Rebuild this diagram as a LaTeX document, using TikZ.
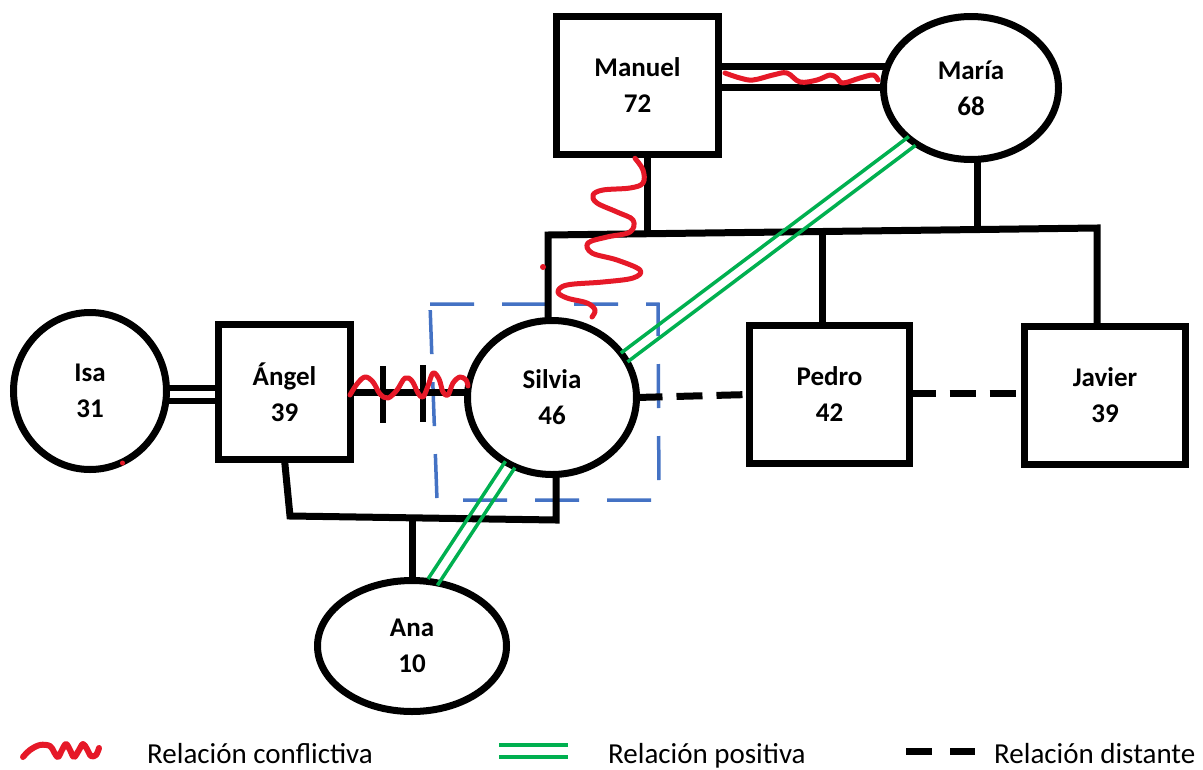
\documentclass[tikz,border=0pt]{standalone}
\usepackage{fontspec}
\setmainfont{Carlito}
\usetikzlibrary{shapes.geometric,calc}
\definecolor{rojo}{RGB}{230,25,40}
\definecolor{verde}{RGB}{0,176,80}
\definecolor{azul}{RGB}{68,114,196}
\begin{document}
\begin{tikzpicture}[x=1pt,y=-1pt,
  persona/.style={draw=black,line width=7pt,inner sep=0pt,outer sep=0pt,align=center,font=\bfseries\fontsize{27}{36}\selectfont},
  hombre/.style={persona,rectangle},
  mujer/.style={persona,ellipse},
  fam/.style={line width=7pt,black},
  distante/.style={line width=7pt,black,dash pattern=on 26pt off 14pt},
  positiva/.style={line width=3.5pt,verde},
  conflicto/.style={line width=5pt,rojo,line cap=round,line join=round},
  marco/.style={line width=3.5pt,azul,dash pattern=on 44pt off 28pt},
  leyenda/.style={font=\fontsize{29}{34}\selectfont,anchor=base west,inner sep=0pt}
]
\useasboundingbox[fill=white] (0,0) rectangle (1203,769);

% persons
\node[hombre,minimum width=162pt,minimum height=138pt] (Manuel) at (637.5,85.5) {Manuel\\72};
\node[mujer,minimum width=175pt,minimum height=143pt] (Maria) at (971,88) {María\\68};
\node[mujer,minimum width=153pt,minimum height=157pt] (Isa) at (90,391) {Isa\\31};
\node[hombre,minimum width=132pt,minimum height=135pt] (Angel) at (284.5,392) {Ángel\\39};
\node[mujer,minimum width=169pt,minimum height=154pt] (Silvia) at (552,397.5) {Silvia\\46};
\node[hombre,minimum width=160pt,minimum height=138pt] (Pedro) at (829.5,394.5) {Pedro\\42};
\node[hombre,minimum width=161pt,minimum height=138pt] (Javier) at (1105,395.5) {Javier\\39};
\node[mujer,minimum width=189pt,minimum height=131pt] (Ana) at (412,646) {Ana\\10};

% blue dashed frame around Silvia
\draw[marco] (430,304) -- (658,304) -- (659,500) -- (437,500) -- cycle;

% junction coordinates
\coordinate (mj) at (647,233.7);
\coordinate (mrj) at (977,229.5);
\coordinate (pj) at (822,231.5);
\coordinate (sibL) at (548,235);
\coordinate (sibR) at (1097,228);
\coordinate (cL) at (290,516);
\coordinate (cR) at (556,520);
\coordinate (ca) at (412,518);

% Manuel - Maria marriage
\draw[fam] ($(Manuel.east)+(0,-19.5)$) -- ($(Manuel.east -| Maria.west)+(5,-19.5)$);
\draw[fam] ($(Manuel.east)+(0,1.5)$) -- ($(Manuel.east -| Maria.west)+(3,1.5)$);

% children line
\draw[fam] (mj |- Manuel.south) -- (mj);
\draw[fam] (mrj |- Maria.south) -- (mrj);
\draw[fam] (sibL |- Silvia.north) -- (sibL) -- (sibR) -- (sibR |- Javier.north);
\draw[fam] (pj) -- (pj |- Pedro.north);

% Isa - Angel
\draw[fam,line width=6pt] ($(Isa.east)+(0,-3.5)$) -- ($(Angel.west)+(0,-4.5)$);
\draw[fam,line width=6pt] ($(Isa.east)+(0,9.5)$) -- ($(Angel.west)+(0,8.5)$);

% Angel - Silvia (separated)
\draw[fam] (Angel.east) -- (Angel.east -| Silvia.west);
\draw[fam,line width=6pt] (383,366) -- (383,423);
\draw[fam,line width=6pt] (423,365) -- (423,422);

% Angel/Silvia - Ana
\draw[fam] (Angel.south) -- (cL) -- (cR) -- (cR |- Silvia.south);
\draw[fam] (ca) -- (Ana.north);

% distant relations
\draw[distante] (Silvia.east) -- (Pedro.west);
\draw[distante] ($(Pedro.east)+(0,-1.5)$) -- ($(Javier.west)+(0,-2.5)$);

% positive relations
\draw[positiva] ($(Silvia.29)+(-3.3,-4.4)$) -- ($(Maria.222)+(-3.3,-4.4)$);
\draw[positiva] ($(Silvia.29)+(3.3,4.4)$) -- ($(Maria.222)+(3.3,4.4)$);
\draw[positiva] ($(Silvia.238)+(-4.7,-3.2)$) -- ($(Ana.72)+(-4.7,-3.2)$);
\draw[positiva] ($(Silvia.238)+(4.7,3.2)$) -- ($(Ana.72)+(4.7,3.2)$);

% conflict waves
\draw[conflicto] plot[smooth,tension=0.6] coordinates {(725,73) (740,78) (753,80) (773,75) (787,73) (800,82) (817,80) (830,75) (837,78) (843,83) (860,78) (873,75) (878,80)};
\draw[conflicto] plot[smooth,tension=0.6] coordinates {(635,158.3) (643,170) (643,183) (630,188) (603,190) (593,195) (597,203) (617,212) (633,220) (630,232) (607,237) (588,243) (592,253) (617,260) (640,270) (633,278) (603,282) (567,285) (558,292) (567,298) (587,303) (595,310) (592,317)};
\draw[conflicto] plot[smooth,tension=0.6] coordinates {(350,395) (357,384) (365,377) (373,382) (380,394) (388,398) (397,390) (405,378) (412,381) (418,393) (423,397) (428,386) (433,373) (439,379) (443,392) (448,395) (453,383) (460,377) (466,380) (468,386)};
\fill[rojo] (543,267) circle (3);
\fill[rojo] (122.5,463) circle (2.5);

% legend
\draw[conflicto,line width=6pt] plot[smooth,tension=0.6] coordinates {(23,757) (30,750) (40,745) (50,746) (54,752) (58,757) (62,750) (66,744) (70,750) (74,757) (79,750) (83,744) (87,749) (91,756) (96,755) (99,748)};
\node[leyenda] (lc) at (147,763) {Relación conflictiva};
\draw[positiva,line width=4pt] (499,745) -- (568,745);
\draw[positiva,line width=4pt] (499,756.5) -- (568,756.5);
\node[leyenda] (lp) at (608,763) {Relación positiva};
\draw[fam] (906,751) -- (932,751);
\draw[fam] (950,751) -- (975,751);
\node[leyenda] (ld) at (994,763) {Relación distante};
\end{tikzpicture}
\end{document}
